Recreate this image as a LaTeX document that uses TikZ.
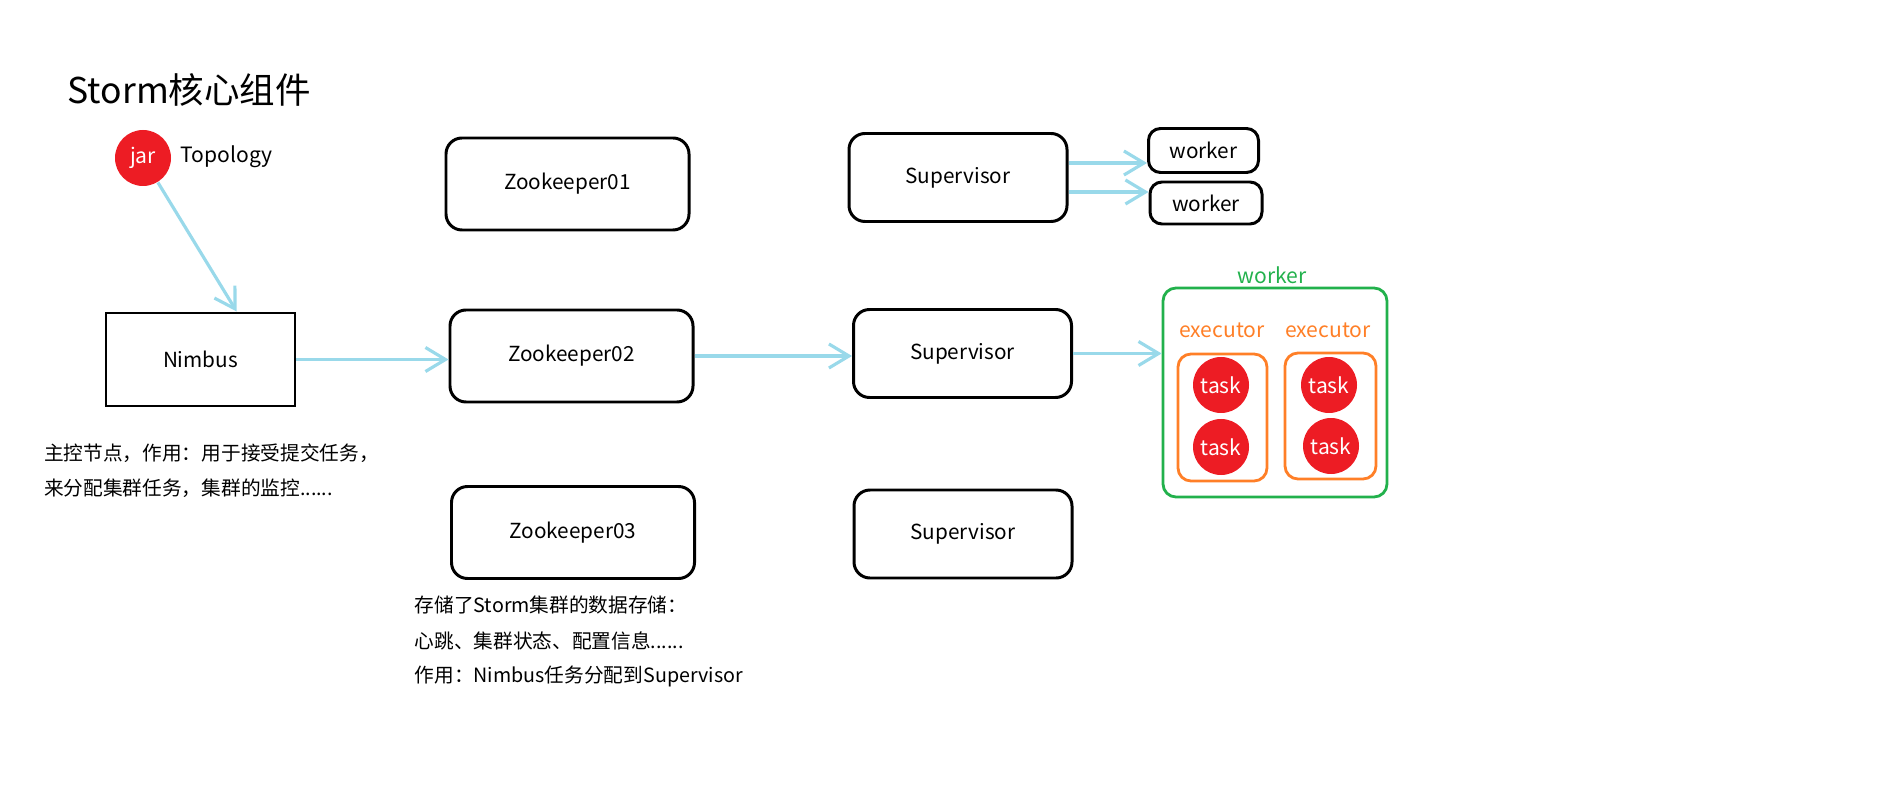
\documentclass[tikz,border=0pt]{standalone}
\usepackage{fontspec}
\setmainfont{Noto Sans CJK SC}
\usepackage{tikz}
\usetikzlibrary{arrows.meta}
\definecolor{paintblue}{RGB}{153,217,234}
\definecolor{paintred}{RGB}{237,28,36}
\definecolor{paintgreen}{RGB}{34,177,76}
\definecolor{paintorange}{RGB}{255,127,39}

\begin{document}
\begin{tikzpicture}[
	zkbox/.style={draw, line width=0.85pt, rounded corners=1.6mm, minimum width=2.43cm, minimum height=0.92cm, font=\fontsize{5.9}{7}\selectfont},
	supbox/.style={zkbox, minimum width=2.18cm, minimum height=0.88cm},
	wbox/.style={zkbox, rounded corners=1.2mm, minimum width=1.1cm, minimum height=0.44cm},
	flow/.style={draw=paintblue, line width=0.9pt, -{Straight Barb[length=2mm, width=2.4mm]}},
	task/.style={circle, fill=paintred, inner sep=0pt, minimum size=0.56cm, text=white, font=\fontsize{6}{7}\selectfont},
	lbl/.style={inner sep=0pt, font=\fontsize{6}{7}\selectfont},
	note/.style={anchor=west, inner sep=0pt, font=\fontsize{5.6}{7}\selectfont}
]
	\useasboundingbox (0,0) rectangle (19.02,8.02);
	\node[anchor=west, inner sep=0pt, font=\fontsize{10.1}{12}\selectfont] (title) at (0.67,7.12) {Storm核心组件};
	\node[task] (jar) at (1.43,6.44) {jar};
	\node[lbl, anchor=west] (topo) at (1.80,6.45) {Topology};
	\node[zkbox, sharp corners, minimum width=1.89cm, minimum height=0.93cm] (nimbus) at (2.005,4.425) {Nimbus};
	\node[note] (n1) at (0.435,3.49) {主控节点，作用：用于接受提交任务，};
	\node[note] (n2) at (0.435,3.14) {来分配集群任务，集群的监控......};
	\node[zkbox] (zk1) at (5.675,6.18) {Zookeeper01};
	\node[zkbox] (zk2) at (5.715,4.46) {Zookeeper02};
	\node[zkbox] (zk3) at (5.73,2.695) {Zookeeper03};
	\node[note] (z1) at (4.14,1.97) {存储了Storm集群的数据存储：};
	\node[note] (z2) at (4.14,1.61) {心跳、集群状态、配置信息......};
	\node[note] (z3) at (4.14,1.26) {作用：Nimbus任务分配到Supervisor};
	\node[supbox] (sup1) at (9.58,6.245) {Supervisor};
	\node[supbox] (sup2) at (9.625,4.485) {Supervisor};
	\node[supbox] (sup3) at (9.63,2.68) {Supervisor};
	\node[wbox] (w1) at (12.035,6.515) {worker};
	\node[wbox, minimum width=1.12cm, minimum height=0.42cm] (w2) at (12.06,5.99) {worker};
	\node[draw=paintgreen, line width=0.8pt, rounded corners=1.3mm, minimum width=2.24cm, minimum height=2.09cm] (wk) at (12.75,4.095) {};
	\node[lbl, text=paintgreen] (wklabel) at (12.72,5.27) {worker};
	\node[lbl, text=paintorange] (ex1label) at (12.22,4.72) {executor};
	\node[lbl, text=paintorange] (ex2label) at (13.28,4.72) {executor};
	\node[draw=paintorange, line width=0.8pt, rounded corners=1.3mm, minimum width=0.89cm, minimum height=1.27cm] (ex1) at (12.225,3.845) {};
	\node[draw=paintorange, line width=0.8pt, rounded corners=1.3mm, minimum width=0.91cm, minimum height=1.26cm] (ex2) at (13.305,3.86) {};
	\node[task] (t1) at (12.21,4.17) {task};
	\node[task] (t2) at (12.21,3.55) {task};
	\node[task] (t3) at (13.29,4.17) {task};
	\node[task] (t4) at (13.31,3.56) {task};
	\draw[flow] (jar) -- (nimbus.53);
	\draw[flow] (nimbus.east) -- (nimbus.east -| zk2.west);
	\draw[flow] (zk2.east) -- (zk2.east -| sup2.west);
	\draw[flow] ([yshift=1.45mm]sup1.east) -- ([yshift=1.45mm]sup1.east -| w1.west);
	\draw[flow] ([yshift=-1.45mm]sup1.east) -- ([yshift=-1.45mm]sup1.east -| w2.west);
	\draw[flow] (sup2.east) -- (sup2.east -| wk.west);
\end{tikzpicture}
\end{document}
